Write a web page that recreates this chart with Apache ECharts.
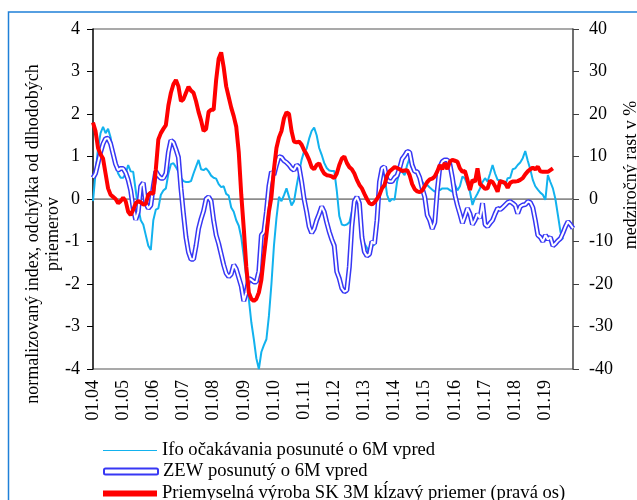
<!DOCTYPE html>
<html>
<head>
<meta charset="utf-8">
<script src="https://cdn.jsdelivr.net/npm/echarts@6/dist/echarts.min.js"></script>
<style>html,body{margin:0;padding:0;background:#fff}#c{width:637px;height:500px}</style>
</head>
<body>
<div id="c"></div>
<script>
// Monthly categories 01.04 ... 12.19
const months = [];
for (let y = 2004; y <= 2019; y++) {
  for (let m = 1; m <= 12; m++) {
    months.push((m < 10 ? '0' + m : '' + m) + '.' + String(y).slice(2));
  }
}

const ifoName = 'Ifo očakávania posunuté o 6M vpred';
const zewName = 'ZEW posunutý o 6M vpred';
const ipName = 'Priemyselná výroba SK 3M kĺzavý priemer (pravá os)';

// Ifo expectations shifted 6M (left axis)
const ifo = [
 -0.05,0.6,1.2,1.55,1.7,1.55,1.65,1.45,1.1,0.8,
 0.6,0.5,0.5,0.6,0.8,0.65,0.64,0.2,-0.2,-0.5,
 -0.6,-0.85,-1.1,-1.2,-0.5,-0.25,-0.22,0.1,0.2,0.25,
 0.6,0.82,0.84,0.75,0.64,0.5,0.42,0.4,0.4,0.42,
 0.6,0.76,0.92,0.7,0.68,0.72,0.65,0.55,0.5,0.48,
 0.35,0.28,0.3,0.12,0.08,-0.2,-0.3,-0.5,-0.63,-0.9,
 -1.35,-1.85,-2.35,-2.9,-3.3,-3.75,-4.0,-3.6,-3.44,-3.3,
 -2.75,-2.0,-1.1,-0.45,0.05,-0.05,0.09,0.25,0.05,-0.15,
 -0.05,0.3,0.62,0.92,1.12,1.18,1.42,1.6,1.68,1.5,
 1.2,1.04,0.85,0.73,0.67,0.66,0.66,0.2,-0.4,-0.6,
 -0.62,-0.6,-0.55,-0.3,0.0,-0.05,-0.3,-0.85,-1.05,-1.15,
 -1.3,-1.1,-1.08,-0.75,0.15,0.64,0.56,0.1,-0.06,0.0,
 -0.02,0.41,0.64,0.64,0.56,0.8,0.96,0.72,0.64,0.66,
 0.53,0.41,0.33,0.33,0.27,0.22,0.17,0.25,0.21,0.25,
 0.25,0.25,0.21,0.17,0.35,0.2,0.3,0.53,0.48,0.33,
 0.17,-0.14,0.02,0.13,0.25,0.4,0.49,0.41,0.6,0.8,
 0.6,0.45,0.45,0.38,0.33,0.49,0.5,0.7,0.72,0.8,
 0.86,0.96,1.13,0.9,0.7,0.45,0.3,0.22,0.15,0.1,
 -0.02,0.56,0.4,0.25,0.0,-0.38,-0.77,-0.95,null,null,
 null,null
];

// ZEW shifted 6M (left axis)
const zew = [
 0.5,0.6,0.85,1.1,1.3,1.42,1.43,1.3,1.06,0.82,
 0.68,0.72,0.72,0.62,0.45,0.2,-0.22,-0.49,-0.3,0.3,
 0.38,-0.1,-0.22,-0.15,0.3,0.65,0.55,0.49,0.49,0.6,
 1.1,1.38,1.33,1.17,0.98,0.25,-0.35,-0.9,-1.25,-1.42,
 -1.42,-1.1,-0.7,-0.47,-0.28,0.0,0.05,-0.05,-0.5,-0.85,
 -1.05,-1.3,-1.55,-1.75,-1.83,-1.77,-1.55,-1.65,-1.85,-2.05,
 -2.4,-2.2,-1.87,-1.9,-1.95,-1.95,-1.7,-0.85,-0.78,-0.3,
 0.3,0.64,0.57,0.8,1.0,0.98,0.9,0.86,0.8,0.72,
 0.68,0.8,0.75,0.41,0.0,-0.3,-0.65,-0.8,-0.7,-0.5,
 -0.35,-0.18,-0.3,-0.55,-0.77,-0.95,-1.1,-1.71,-1.87,-2.1,
 -2.18,-2.15,-1.6,-0.65,-0.06,0.05,-0.1,-0.9,-1.24,-1.34,
 -1.3,-1.0,-1.05,-0.5,0.4,0.72,0.76,0.45,0.41,0.41,
 0.5,0.55,0.72,0.94,1.02,1.12,1.1,0.8,0.65,0.64,
 0.5,0.25,0.05,-0.38,-0.5,-0.7,-0.55,0.2,0.75,0.88,
 0.92,0.92,0.82,0.5,0.1,-0.15,-0.35,-0.57,-0.4,-0.22,
 -0.35,-0.6,-0.5,-0.35,-0.45,-0.1,-0.6,-0.65,-0.57,-0.5,
 -0.35,-0.22,-0.25,-0.2,-0.14,-0.08,-0.06,-0.1,-0.15,-0.34,
 -0.18,-0.14,-0.13,-0.06,-0.08,-0.2,-0.5,-0.85,-0.9,-1.0,
 -0.85,-0.95,-0.9,-1.1,-1.05,-0.98,-0.93,-0.8,-0.65,-0.53,
 -0.6,-0.69
];

// Industrial production SK, 3M moving average, y/y % (right axis)
const ip = [
 18,16,12,10.5,9.5,6,2.5,1,0.5,0,
 -1,-0.5,0.3,-0.5,-3,-3.8,-2.5,-1,-0.5,-0.8,
 -1.3,-1.2,1,1.5,1.2,7,14,15.5,16.5,17.4,
 22,25,27,28,26.5,23,23.5,25,26.4,25.5,
 25,23,20.5,18.5,16,16.5,20.5,21,21,28,
 33,34.5,31,26.5,24,21.5,19.5,17,11,1,
 -7,-16,-22,-23.5,-24,-23.5,-22,-19,-13.5,-8.5,
 -3,0.5,7,12,14.5,16,19,20.4,20,16,
 13.5,13.3,13.5,12.8,11.5,10.5,9.2,7.5,7,8,
 8.4,7,6,5.6,5.5,5.3,4.9,6,8,9.5,
 10,8.5,7.5,7,6,4.5,3.3,2.5,1.2,0,
 -1,-1.3,-0.8,0,1,2.5,3.3,5.5,6.5,7,
 7.5,7.3,7,6.6,6.7,6.8,5.6,3.5,2.3,1.8,
 1.6,2,3,4,4.6,4.8,5.3,6.5,8,7,
 8.5,7,8.8,9.2,9,8.8,7.2,6.4,6.6,4.5,
 2.1,4.5,4,7.2,3.5,3,2.4,2.5,4.3,4,
 3,1.7,4.2,4,3.8,2.6,3.8,4.1,4.1,4.2,
 4.5,4.9,5.8,6.5,7,7.4,7,7.6,6.5,6.4,
 6.4,6.4,6.8,7.2,null,null,null,null,null,null,
 null,null
];

const leftTicks = {min: -4, max: 4, interval: 1};
const rightTicks = {min: -40, max: 40, interval: 10};

const FONT = '"Liberation Serif", "Times New Roman", serif';
const ZEW_BLUE = '#3737F4';
const IFO_BLUE = '#12B2EE';
const RED = '#FF0000';

const chart = echarts.init(document.getElementById('c'), null, {renderer: 'canvas'});
const gridLine = ['#8c8c8c','rgba(0,0,0,0)','rgba(0,0,0,0)','rgba(0,0,0,0)','#8c8c8c','rgba(0,0,0,0)','rgba(0,0,0,0)','rgba(0,0,0,0)','#8c8c8c'];

function legendFor(item, top) {
  return {
    orient: 'vertical', left: 103, top: top,
    itemWidth: 54, itemHeight: 6, padding: 0,
    selectedMode: false,
    textStyle: {fontFamily: FONT, fontSize: 18.6, color: '#000', lineHeight: 16},
    data: [item]
  };
}

chart.setOption({
  animation: false,
  backgroundColor: '#fff',
  textStyle: {fontFamily: FONT},
  grid: {left: 93, right: 64, top: 29, bottom: 131, containLabel: false},
  legend: [
    legendFor({name: ifoName, icon: 'path://M0,2.5 L54,2.5 L54,3.5 L0,3.5 Z', itemStyle: {color: IFO_BLUE, borderWidth: 0}}, 441),
    legendFor({name: zewName, icon: 'roundRect', itemStyle: {color: '#fff', borderColor: ZEW_BLUE, borderWidth: 2}}, 462),
    legendFor({name: ipName, icon: 'rect', itemStyle: {color: RED, borderWidth: 0}}, 484)
  ],
  xAxis: {
    type: 'category',
    data: months,
    boundaryGap: false,
    axisLine: {show: true, lineStyle: {color: '#8c8c8c', width: 1}},
    axisTick: {show: false},
    axisLabel: {
      interval: 11,
      rotate: 90,
      margin: 11,
      fontFamily: FONT, fontSize: 18, color: '#000'
    },
    splitLine: {show: false}
  },
  yAxis: [
    {
      type: 'value', position: 'left',
      min: leftTicks.min, max: leftTicks.max, interval: leftTicks.interval,
      axisLine: {show: true, lineStyle: {color: '#000', width: 1.5}},
      axisTick: {show: true, length: 6, lineStyle: {color: '#000', width: 1}},
      axisLabel: {margin: 13, fontFamily: FONT, fontSize: 18, color: '#000'},
      splitLine: {show: true, lineStyle: {color: gridLine, width: 1.5}}
    },
    {
      type: 'value', position: 'right',
      min: rightTicks.min, max: rightTicks.max, interval: rightTicks.interval,
      axisLine: {show: true, lineStyle: {color: '#404040', width: 1.5}},
      axisTick: {show: true, length: 6, lineStyle: {color: '#404040', width: 1}},
      axisLabel: {margin: 16, fontFamily: FONT, fontSize: 18, color: '#000'},
      splitLine: {show: false}
    }
  ],
  series: [
    {
      name: ifoName, type: 'line', yAxisIndex: 0, data: ifo,
      symbol: 'none', z: 2, connectNulls: false,
      lineStyle: {color: IFO_BLUE, width: 2}, itemStyle: {color: IFO_BLUE}
    },
    {
      name: zewName, type: 'line', yAxisIndex: 0, data: zew,
      symbol: 'none', z: 3,
      lineStyle: {color: ZEW_BLUE, width: 5}, itemStyle: {color: ZEW_BLUE}
    },
    {
      name: 'zew-inner', type: 'line', yAxisIndex: 0, data: zew,
      symbol: 'none', z: 4, silent: true,
      lineStyle: {color: '#fff', width: 2}, itemStyle: {color: '#fff'}
    },
    {
      name: ipName, type: 'line', yAxisIndex: 1, data: ip,
      symbol: 'none', z: 5,
      lineStyle: {color: RED, width: 4}, itemStyle: {color: RED}
    }
  ],
  graphic: [
    {
      type: 'rect', silent: true, z: 100,
      shape: {x: 8.5, y: 12, width: 700, height: 600},
      style: {fill: 'none', stroke: '#1F80D8', lineWidth: 1.5}
    },
    {
      type: 'text', silent: true,
      x: 43, y: 234, rotation: Math.PI / 2,
      style: {
        text: 'normalizovaný index, odchýlka od dlhodobých\npriemerov',
        font: '18px ' + FONT, fill: '#000',
        align: 'center', verticalAlign: 'middle', lineHeight: 20
      }
    },
    {
      type: 'text', silent: true,
      x: 631, y: 175, rotation: Math.PI / 2,
      style: {
        text: 'medziročný rast v %',
        font: '18px ' + FONT, fill: '#000',
        align: 'center', verticalAlign: 'middle'
      }
    }
  ]
});
</script>
</body>
</html>
